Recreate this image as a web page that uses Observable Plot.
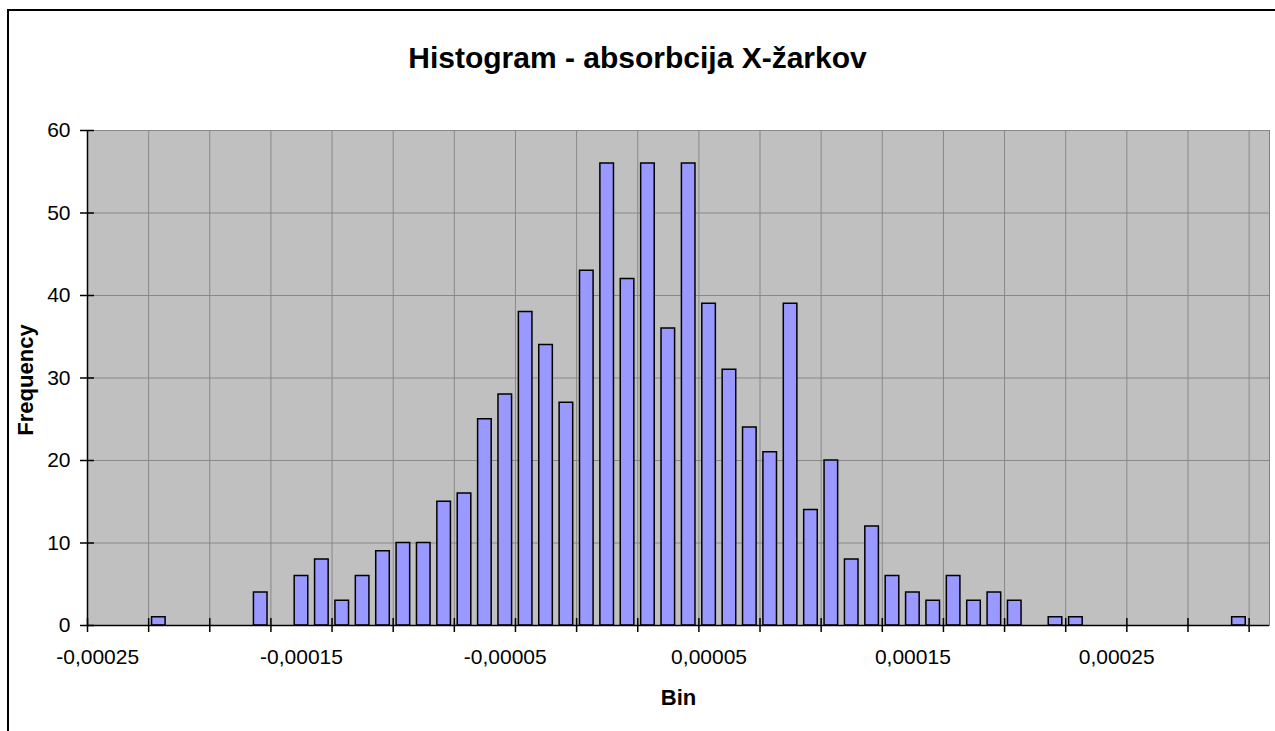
<!DOCTYPE html>
<html><head><meta charset="utf-8">
<script src="https://cdn.jsdelivr.net/npm/d3@7"></script>
<script src="https://cdn.jsdelivr.net/npm/@observablehq/plot@0.6"></script>
<style>
html,body{margin:0;padding:0;background:#fff;overflow:hidden}
#wrap{position:relative;width:1275px;height:731px;overflow:hidden;font-family:"Liberation Sans",Arial,sans-serif}
#border{position:absolute;left:7px;top:9px;width:1400px;height:900px;border:2px solid #000;box-sizing:border-box}
#title{position:absolute;left:0;width:1275px;top:43px;text-align:center;font-weight:bold;font-size:30px;line-height:30px;color:#000}
#chart{position:absolute;left:0;top:0}
</style></head>
<body><div id="wrap"><div id="border"></div><div id="chart"></div><div id="title">Histogram - absorbcija X-žarkov</div></div>
<script>
const bins = ["-0,00025","-0,00024","-0,00023","-0,00022","-0,00021","-0,0002","-0,00019","-0,00018","-0,00017","-0,00016",
  "-0,00015","-0,00014","-0,00013","-0,00012","-0,00011","-0,0001","-0,00009","-0,00008","-0,00007","-0,00006",
  "-0,00005","-0,00004","-0,00003","-0,00002","-0,00001","0","0,00001","0,00002","0,00003","0,00004",
  "0,00005","0,00006","0,00007","0,00008","0,00009","0,0001","0,00011","0,00012","0,00013","0,00014",
  "0,00015","0,00016","0,00017","0,00018","0,00019","0,0002","0,00021","0,00022","0,00023","0,00024",
  "0,00025","0,00026","0,00027","0,00028","0,00029","0,0003","0,00031","More"];
const freq = [0,0,0,1,0,0,0,0,4,0,
  6,8,3,6,9,10,10,15,16,25,
  28,38,34,27,43,56,42,56,36,56,
  39,31,24,21,39,14,20,8,12,6,
  4,3,6,3,4,3,0,1,1,0,
  0,0,0,0,0,0,1,0];
const xTickLabels = ["-0,00025","-0,00015","-0,00005","0,00005","0,00015","0,00025"];
const yTicks = [0,10,20,30,40,50,60];

const table = bins.map((bin, i) => ({bin, i, freq: freq[i]}));
const xGrid = d3.range(3, bins.length, 3);
const xTickMarks = d3.range(0, bins.length, 3);
const labelPos = xTickLabels.map(l => bins.indexOf(l) + 0.5);

const chart = Plot.plot({
  width: 1275, height: 731,
  marginTop: 130, marginBottom: 106, marginLeft: 87, marginRight: 6,
  style: {fontFamily: "'Liberation Sans', Arial, sans-serif", background: "transparent", color: "#000"},
  x: {type: "linear", domain: [0, bins.length], axis: null},
  y: {domain: [0, 60], axis: null},
  marks: [
    Plot.frame({fill: "#C0C0C0", stroke: "#808080", strokeWidth: 1}),
    Plot.gridY(yTicks.slice(1), {stroke: "#888888", strokeOpacity: 1, strokeWidth: 1}),
    Plot.gridX(xGrid, {stroke: "#888888", strokeOpacity: 1, strokeWidth: 1}),
    Plot.rectY(table, {filter: d => d.freq > 0, x1: "i", x2: d => d.i + 1, y: "freq",
      insetLeft: 3.4, insetRight: 3.4, fill: "#9999FF", stroke: "#000", strokeWidth: 1.5}),
    Plot.axisY(yTicks, {tickSize: 14, dx: 7, fill: null, stroke: "#000", strokeWidth: 1.5}),
    Plot.axisY(yTicks, {tickSize: 0, tickPadding: 17, fontSize: 21, label: null, fill: "#000"}),
    Plot.axisX(xTickMarks, {tickSize: 14, dy: -7, fill: null, stroke: "#000", strokeWidth: 1.5}),
    Plot.axisX(labelPos, {tickSize: 0, tickPadding: 24, tickFormat: v => bins[Math.round(v - 0.5)], fontSize: 21, label: null, fill: "#000"}),
    Plot.ruleY([0], {stroke: "#000", strokeWidth: 1.5}),
    Plot.ruleX([0], {stroke: "#000", strokeWidth: 1.5}),
    Plot.text(["Frequency"], {frameAnchor: "left", dx: -62, dy: 2, rotate: -90, textAnchor: "middle", lineAnchor: "middle", fontWeight: "bold", fontSize: 22, fill: "#000"}),
    Plot.text(["Bin"], {frameAnchor: "bottom", dy: 72, lineAnchor: "middle", fontWeight: "bold", fontSize: 22, fill: "#000"})
  ]
});
document.getElementById("chart").appendChild(chart);
</script>
</body></html>
